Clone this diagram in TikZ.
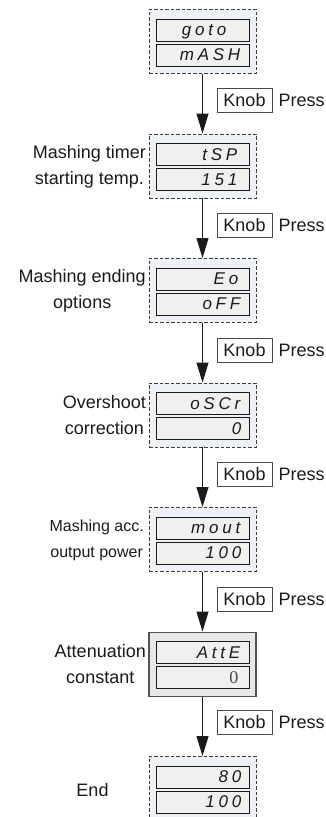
\documentclass[tikz,border=0pt]{standalone}
\usepackage{fontspec}
\setmainfont{Liberation Sans}
\newfontfamily\segfont[LetterSpace=22]{Liberation Sans}
\newfontfamily\serfont{Liberation Serif}
\usetikzlibrary{arrows.meta}
\definecolor{panelfill}{HTML}{EEF1F6}
\definecolor{dispfill}{HTML}{F0F0F0}
\definecolor{solidfill}{HTML}{E8E8E8}
\definecolor{ink}{HTML}{1A1A1A}
\begin{document}
\begin{tikzpicture}[x=1pt,y=-1pt,
 panel/.style={draw=ink!85, dash pattern=on 3.5pt off 2pt, fill=panelfill, line width=0.9pt, minimum width=107pt, minimum height=64pt, inner sep=0pt, anchor=north},
 solidpanel/.style={draw=ink!75, fill=solidfill, line width=1.1pt, minimum width=107pt, minimum height=64pt, inner sep=0pt, anchor=north},
 disp/.style={draw=ink, fill=dispfill, line width=0.9pt, minimum width=93pt, minimum height=22pt, inner sep=0pt, anchor=north},
 segtxt/.style={anchor=base east, inner sep=0pt, font=\segfont\itshape\fontsize{17}{17}\selectfont, text=ink},
 sertxt/.style={anchor=base east, inner sep=0pt, font=\serfont\fontsize{18}{18}\selectfont, text=ink!80},
 lbl/.style={anchor=east, align=center, inner sep=0pt, font=\fontsize{18}{26}\selectfont, text=ink},
 smalllbl/.style={anchor=east, align=center, inner sep=0pt, font=\fontsize{16}{26}\selectfont, text=ink},
 knob/.style={draw=ink!80, line width=0.8pt, minimum width=55pt, minimum height=24pt, inner sep=0pt, font=\fontsize{18}{18}\selectfont, text=ink},
 press/.style={anchor=base west, inner sep=0pt, font=\fontsize{18}{18}\selectfont, text=ink},
 flow/.style={draw=ink, line width=1pt, -{Triangle[length=20pt,width=12pt]}}
]
\useasboundingbox (0,0) rectangle (325,817);

% panel 1
\node[panel] (p1) at (202.5,9) {};
\node[disp] (d1a) at (202.5,18.5) {};
\node[disp] (d1b) at (202.5,43.5) {};
\node[segtxt] (t1a) at ([xshift=-23pt,yshift=-6pt]d1a.east) {goto};
\node[segtxt] (t1b) at ([xshift=-9pt,yshift=-6pt]d1b.east) {mASH};

% panel 2
\node[panel] (p2) at (202.5,133.5) {};
\node[disp] (d2a) at (202.5,143) {};
\node[disp] (d2b) at (202.5,168) {};
\node[segtxt] (t2a) at ([xshift=-12pt,yshift=-6pt]d2a.east) {tSP};
\node[segtxt] (t2b) at ([xshift=-12pt,yshift=-6pt]d2b.east) {151};
\node[lbl] (l2) at (146,166.5) {Mashing timer\\starting temp.};

% panel 3
\node[panel] (p3) at (202.5,258) {};
\node[disp] (d3a) at (202.5,267.5) {};
\node[disp] (d3b) at (202.5,292.5) {};
\node[segtxt] (t3a) at ([xshift=-11pt,yshift=-6pt]d3a.east) {Eo};
\node[segtxt] (t3b) at ([xshift=-9pt,yshift=-6pt]d3b.east) {oFF};
\node[lbl] (l3) at (146,291) {Mashing ending\\options};

% panel 4
\node[panel] (p4) at (202.5,382.5) {};
\node[disp] (d4a) at (202.5,392) {};
\node[disp] (d4b) at (202.5,417) {};
\node[segtxt] (t4a) at ([xshift=-9pt,yshift=-6pt]d4a.east) {oSCr};
\node[segtxt] (t4b) at ([xshift=-8pt,yshift=-6pt]d4b.east) {0};
\node[lbl] (l4) at (146,415.5) {Overshoot\\correction};

% panel 5
\node[panel] (p5) at (202.5,507) {};
\node[disp] (d5a) at (202.5,516.5) {};
\node[disp] (d5b) at (202.5,541.5) {};
\node[segtxt] (t5a) at ([xshift=-9pt,yshift=-6pt]d5a.east) {mout};
\node[segtxt] (t5b) at ([xshift=-8pt,yshift=-6pt]d5b.east) {100};
\node[smalllbl] (l5) at (144,540) {Mashing acc.\\output power};

% panel 6
\node[solidpanel] (p6) at (202.5,631.5) {};
\node[disp] (d6a) at (202.5,641) {};
\node[disp] (d6b) at (202.5,666) {};
\node[segtxt] (t6a) at ([xshift=-9pt,yshift=-6pt]d6a.east) {AttE};
\node[sertxt] (t6b) at ([xshift=-11pt,yshift=-6.5pt]d6b.east) {0};
\node[lbl] (l6) at (146,664.5) {Attenuation\\constant};

% panel 7
\node[panel] (p7) at (202.5,756) {};
\node[disp] (d7a) at (202.5,765.5) {};
\node[disp] (d7b) at (202.5,790.5) {};
\node[segtxt] (t7a) at ([xshift=-8pt,yshift=-6pt]d7a.east) {80};
\node[segtxt] (t7b) at ([xshift=-8pt,yshift=-6pt]d7b.east) {100};
\node[lbl, anchor=center] (l7) at (92.5,790) {End};

% arrows
\draw[flow] (p1.south) -- (p2.north);
\draw[flow] (p2.south) -- (p3.north);
\draw[flow] (p3.south) -- (p4.north);
\draw[flow] (p4.south) -- (p5.north);
\draw[flow] (p5.south) -- (p6.north);
\draw[flow] (p6.south) -- (p7.north);

% knob labels
\node[knob] (k1) at (244.5,100) {Knob};
\node[press] (r1) at ([xshift=6pt]k1.base east) {Press};
\node[knob] (k2) at (244.5,225.5) {Knob};
\node[press] (r2) at ([xshift=6pt]k2.base east) {Press};
\node[knob] (k3) at (244.5,350) {Knob};
\node[press] (r3) at ([xshift=6pt]k3.base east) {Press};
\node[knob] (k4) at (244.5,474.5) {Knob};
\node[press] (r4) at ([xshift=6pt]k4.base east) {Press};
\node[knob] (k5) at (244.5,599) {Knob};
\node[press] (r5) at ([xshift=6pt]k5.base east) {Press};
\node[knob] (k6) at (244.5,722.5) {Knob};
\node[press] (r6) at ([xshift=6pt]k6.base east) {Press};
\end{tikzpicture}
\end{document}
